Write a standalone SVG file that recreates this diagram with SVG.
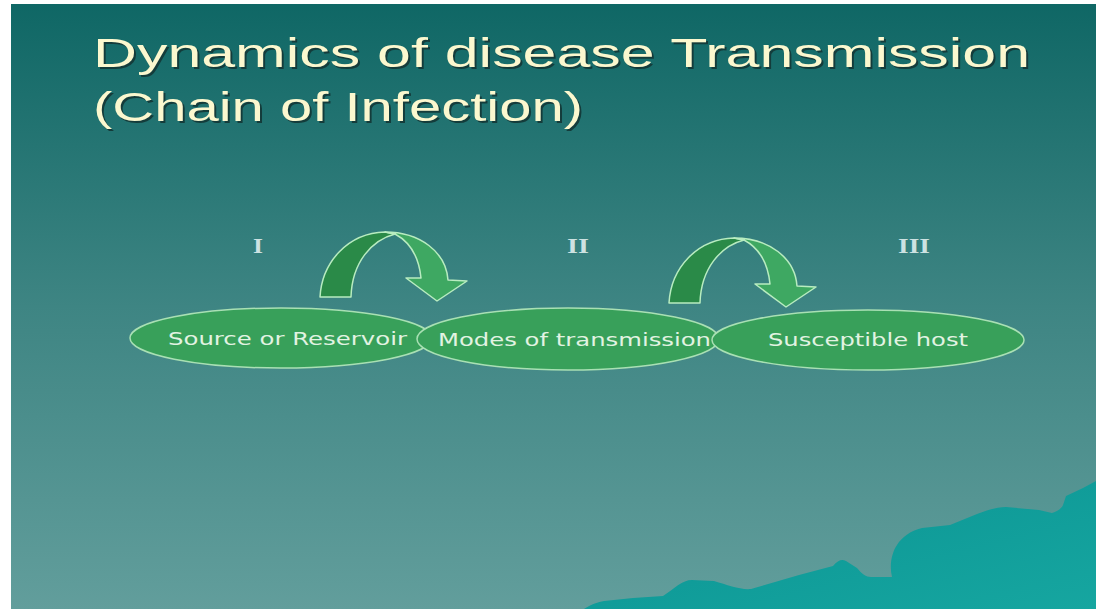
<svg xmlns="http://www.w3.org/2000/svg" width="1096" height="609" viewBox="0 0 1096 609">
  <defs>
    <linearGradient id="bg" x1="0" y1="0" x2="0" y2="1">
      <stop offset="0" stop-color="#0f6765"/>
      <stop offset="0.5" stop-color="#3e8583"/>
      <stop offset="1" stop-color="#629e9c"/>
    </linearGradient>
    <linearGradient id="hill" x1="0" y1="0" x2="1" y2="1">
      <stop offset="0" stop-color="#0a9292"/>
      <stop offset="1" stop-color="#16a6a0"/>
    </linearGradient>
    <g id="curvedArrow">
      <path class="arrDark" d="M320,297 C322,262 348,233 385,232 L395,234 C372,240 352,262 351,297 Z"/>
      <path class="arrLight" d="M385,232 C420,232 446,252 448,280 L467,281 L437,301 L406,278 L421,278 C419,258 410,242 395,234 Z"/>
    </g>
  </defs>
  <style>
    .title { font-family: "Liberation Sans", Arial, sans-serif; font-size: 40px; fill: #fbf8cf; }
    .shadow { font-family: "Liberation Sans", Arial, sans-serif; font-size: 40px; fill: #143c3b; }
    .roman { font-family: "Liberation Serif", "Times New Roman", serif; font-weight: bold; font-size: 20px; fill: #cde2e2; }
    .node ellipse { fill: #38a05a; stroke: #a9e0b4; stroke-width: 1.5; }
    .node text { font-family: "DejaVu Sans", Verdana, sans-serif; font-size: 18px; fill: #e2f3e2; }
    .arrDark { fill: #2a8a48; stroke: #b8ecc0; stroke-width: 1.5; stroke-linejoin: round; }
    .arrLight { fill: #3ea862; stroke: #b8ecc0; stroke-width: 1.5; stroke-linejoin: round; }
  </style>

  <rect x="0" y="0" width="1096" height="609" fill="#ffffff"/>
  <rect x="11" y="4" width="1085" height="605" fill="url(#bg)"/>

  <path d="M584,609 C592,604 598,602 604,601 L633,598 L663,596 C675,588 682,580 692,580 L714,581 C728,585 740,590 751,589 L775,582 L799,575 L833,566 C838,560 842,559 846,561 L857,568 C862,574 866,577 871,577 L892,577 C889,565 892,552 897,545 C902,537 910,531 922,528 L950,525 L977,514 C990,509 998,507 1006,507 L1039,510 L1052,513 C1058,511 1062,508 1063,505 L1066,496 L1083,488 L1096,481 L1096,609 Z" fill="url(#hill)"/>

  <g id="title">
    <text class="shadow" x="95" y="69" textLength="937" lengthAdjust="spacingAndGlyphs">Dynamics of disease Transmission</text>
    <text class="title" x="93" y="67" textLength="937" lengthAdjust="spacingAndGlyphs">Dynamics of disease Transmission</text>
    <text class="shadow" x="95" y="123" textLength="490" lengthAdjust="spacingAndGlyphs">(Chain of Infection)</text>
    <text class="title" x="93" y="121" textLength="490" lengthAdjust="spacingAndGlyphs">(Chain of Infection)</text>
  </g>

  <g id="labels">
    <text class="roman" x="253" y="253" textLength="10" lengthAdjust="spacingAndGlyphs">I</text>
    <text class="roman" x="567" y="253" textLength="22" lengthAdjust="spacingAndGlyphs">II</text>
    <text class="roman" x="898" y="253" textLength="32" lengthAdjust="spacingAndGlyphs">III</text>
  </g>

  <g id="connectors">
    <use href="#curvedArrow"/>
    <use href="#curvedArrow" transform="translate(349,6)"/>
  </g>

  <g id="node-source" class="node">
    <ellipse cx="281" cy="338" rx="151" ry="30"/>
    <text x="168" y="345" textLength="239" lengthAdjust="spacingAndGlyphs">Source or Reservoir</text>
  </g>
  <g id="node-modes" class="node">
    <ellipse cx="568" cy="339" rx="151" ry="31"/>
    <text x="438" y="346" textLength="273" lengthAdjust="spacingAndGlyphs">Modes of transmission</text>
  </g>
  <g id="node-host" class="node">
    <ellipse cx="868" cy="340" rx="156" ry="30"/>
    <text x="768" y="346" textLength="200" lengthAdjust="spacingAndGlyphs">Susceptible host</text>
  </g>
</svg>
